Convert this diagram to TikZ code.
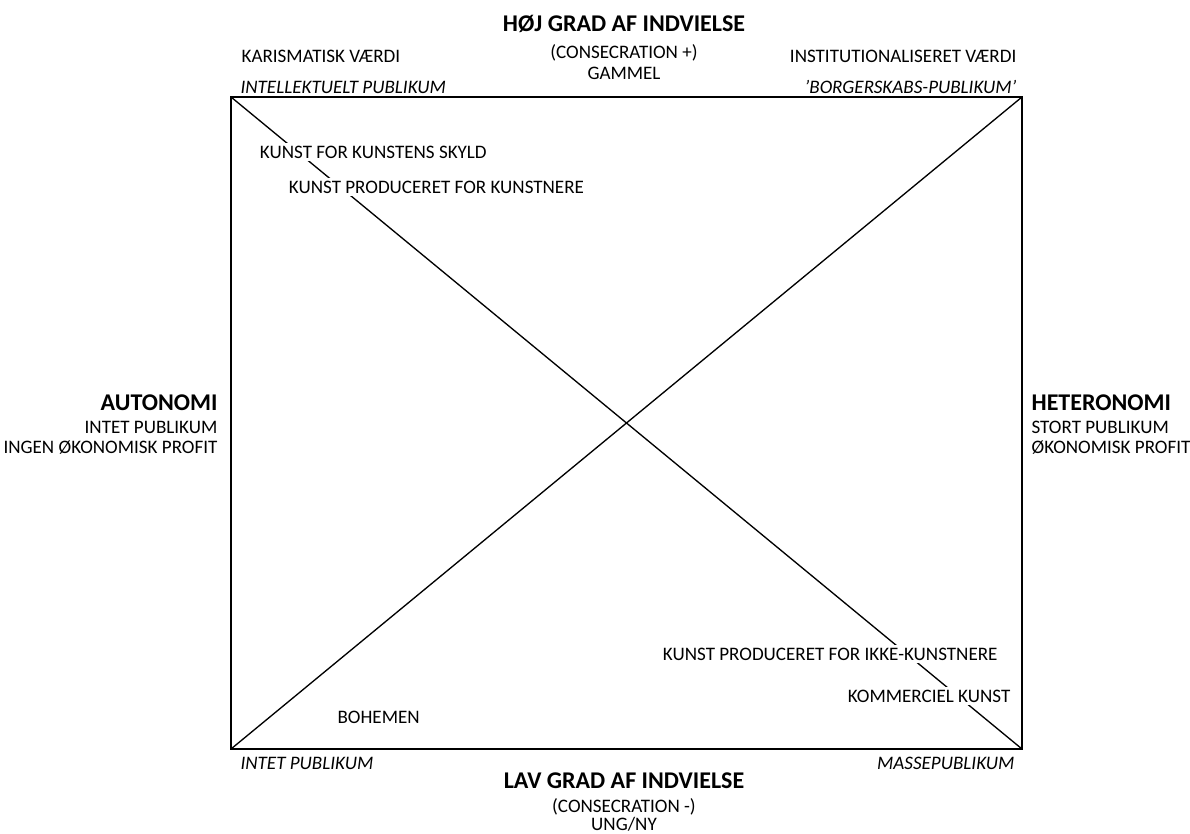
\documentclass[tikz,border=0pt]{standalone}
\usepackage{fontspec}
\setmainfont{Carlito}
\begin{document}
\begin{tikzpicture}[x=0.75pt,y=-0.75pt,
  lbl/.style={inner sep=1pt,font=\fontsize{14.3}{16}\selectfont},
  lblw/.style={lbl,fill=white,inner sep=2pt},
  head/.style={inner sep=1pt,font=\fontsize{18}{20}\selectfont\bfseries},
  it/.style={lbl,font=\fontsize{14.3}{16}\selectfont\itshape},
  frame/.style={line width=1.3pt},
  diag/.style={line width=1pt}]
\useasboundingbox (0,0) rectangle (1190,834);
\coordinate (tl) at (231,97);
\coordinate (tr) at (1022,97);
\coordinate (bl) at (231,749);
\coordinate (br) at (1022,749);
\draw[diag] (tl) -- (br);
\draw[diag] (bl) -- (tr);
\draw[frame] (tl) rectangle (br);
% top
\node[head] (hoj) at (624,24) {HØJ GRAD AF INDVIELSE};
\node[lbl] (consp) at (624,53) {(CONSECRATION +)};
\node[lbl] (gam) at (624,73) {GAMMEL};
\node[lbl,anchor=west] (kar) at (240,56) {KARISMATISK VÆRDI};
\node[it,anchor=west] (intel) at (239,87) {INTELLEKTUELT PUBLIKUM};
\node[lbl,anchor=east] (inst) at (1018,56) {INSTITUTIONALISERET VÆRDI};
\node[it,anchor=east] (borg) at (1018,87) {'BORGERSKABS-PUBLIKUM'};
% inner
\node[lblw,anchor=west] (kfk) at (257,152) {KUNST FOR KUNSTENS SKYLD};
\node[lblw,anchor=west] (kpk) at (286,187) {KUNST PRODUCERET FOR KUNSTNERE};
\node[lblw,anchor=west] (kpik) at (660,654) {KUNST PRODUCERET FOR IKKE-KUNSTNERE};
\node[lblw,anchor=west] (kom) at (845,696) {KOMMERCIEL KUNST};
\node[lbl,anchor=west] (boh) at (336,717) {BOHEMEN};
% sides
\node[head,anchor=east] (auto) at (219,403) {AUTONOMI};
\node[lbl,anchor=east] (ip1) at (219,427) {INTET PUBLIKUM};
\node[lbl,anchor=east] (iop) at (219,448) {INGEN ØKONOMISK PROFIT};
\node[head,anchor=west] (het) at (1030,403) {HETERONOMI};
\node[lbl,anchor=west] (sp) at (1030,427) {STORT PUBLIKUM};
\node[lbl,anchor=west] (op) at (1030,448) {ØKONOMISK PROFIT};
% bottom
\node[it,anchor=west] (ip2) at (239,763) {INTET PUBLIKUM};
\node[it,anchor=east] (mp) at (1016,763) {MASSEPUBLIKUM};
\node[head] (lav) at (624,781) {LAV GRAD AF INDVIELSE};
\node[lbl] (consm) at (624,807) {(CONSECRATION -)};
\node[lbl] (ung) at (624,824) {UNG/NY};
\end{tikzpicture}
\end{document}
